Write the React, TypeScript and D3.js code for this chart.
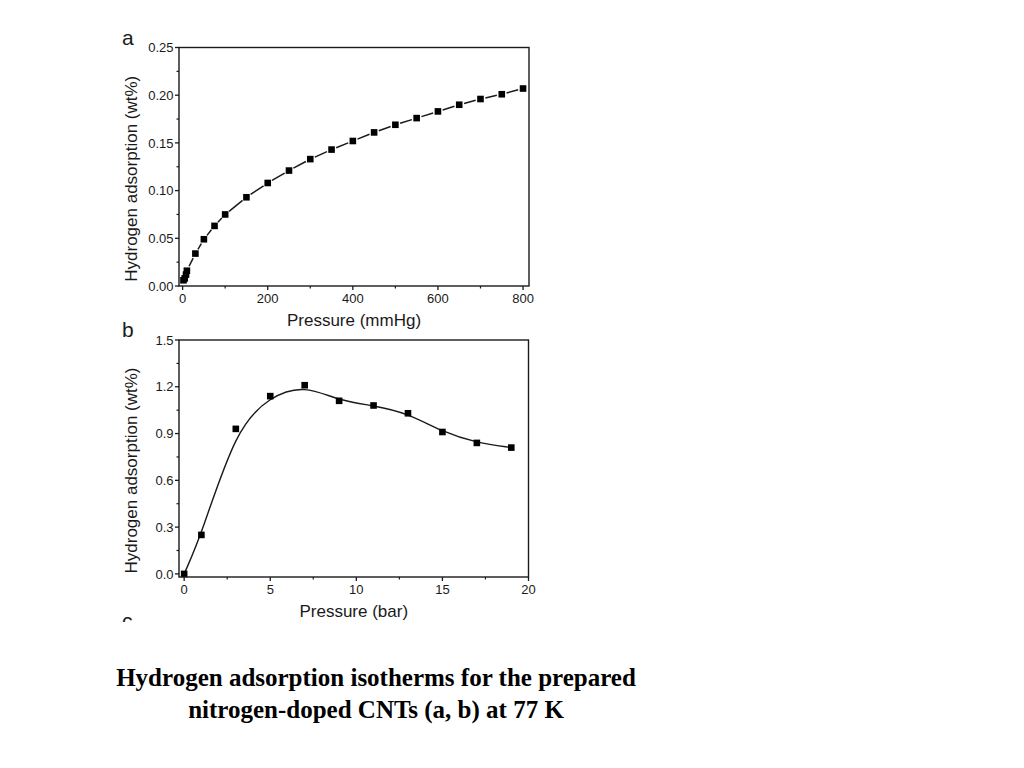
import React from 'react';
import * as d3 from 'd3';

// panel a: low pressure isotherm
const pressureMmHg = [2, 5, 8, 10, 30, 50, 75, 100, 150, 200, 250, 300, 350, 400, 450, 500, 550, 600, 650, 700, 750, 800];
const uptakeA = [0.006, 0.008, 0.012, 0.016, 0.034, 0.049, 0.063, 0.075, 0.093, 0.108, 0.121, 0.133, 0.143, 0.152, 0.161, 0.169, 0.176, 0.183, 0.19, 0.196, 0.201, 0.207];
const ticksA_x = [0, 200, 400, 600, 800];
const ticksA_y = [0, 0.05, 0.1, 0.15, 0.2, 0.25];

// panel b: high pressure isotherm
const pressureBar = [0, 1, 3, 5, 7, 9, 11, 13, 15, 17, 19];
const uptakeB = [0, 0.25, 0.93, 1.14, 1.21, 1.11, 1.08, 1.03, 0.91, 0.84, 0.81];
const ticksB_x = [0, 5, 10, 15, 20];
const ticksB_y = [0, 0.3, 0.6, 0.9, 1.2, 1.5];

const captionLines = [
  'Hydrogen adsorption isotherms for the prepared',
  'nitrogen-doped CNTs (a, b) at 77 K',
];

const FONT = 'Liberation Sans, Arial, sans-serif';
const INK = '#1a1a1a';

type PanelProps = {
  xs: number[];
  ys: number[];
  xDomain: [number, number];
  yDomain: [number, number];
  xTicks: number[];
  yTicks: number[];
  xFmt: (v: number) => string;
  yFmt: (v: number) => string;
  left: number;
  right: number;
  top: number;
  bottom: number;
  letter: string;
  xTitle: string;
  smooth: boolean;
};

const Panel = (p: PanelProps) => {
  const x = d3.scaleLinear().domain(p.xDomain).range([p.left, p.right]);
  const y = d3.scaleLinear().domain(p.yDomain).range([p.bottom, p.top]);
  const pts = p.xs.map((v, i) => [x(v), y(p.ys[i])] as [number, number]);

  // minor ticks halfway between majors
  const xMinor = p.xTicks.slice(1).map((t, i) => (t + p.xTicks[i]) / 2);
  const yMinor = p.yTicks.slice(1).map((t, i) => (t + p.yTicks[i]) / 2);

  let lineEls: React.ReactNode = null;
  if (p.smooth) {
    const path = d3.line().curve(d3.curveBasis)(pts) || '';
    lineEls = <path d={path} fill="none" stroke={INK} strokeWidth={1.4} />;
  } else {
    // line + symbol with small gaps round each square
    const gap = 5;
    lineEls = pts.slice(1).map((b, i) => {
      const a = pts[i];
      const dx = b[0] - a[0];
      const dy = b[1] - a[1];
      const len = Math.hypot(dx, dy);
      if (len < gap * 2 + 2) return null;
      const ux = dx / len;
      const uy = dy / len;
      return (
        <line key={i} x1={a[0] + ux * gap} y1={a[1] + uy * gap} x2={b[0] - ux * gap} y2={b[1] - uy * gap}
          stroke={INK} strokeWidth={1.5} />
      );
    });
  }

  const midY = (p.top + p.bottom) / 2 + 12;
  const midX = (p.left + p.right) / 2;

  return (
    <g>
      <text x={122} y={p.top - 3} fontFamily={FONT} fontSize={21} fill={INK}>{p.letter}</text>
      {lineEls}
      {pts.map((d, i) => (
        <rect key={i} x={d[0] - 3.3} y={d[1] - 3.3} width={6.6} height={6.6} fill="#000" />
      ))}
      <rect x={p.left} y={p.top} width={p.right - p.left} height={p.bottom - p.top} fill="none" stroke={INK} strokeWidth={1.4} />
      {p.xTicks.map((t) => (
        <g key={'x' + t}>
          <line x1={x(t)} x2={x(t)} y1={p.bottom} y2={p.bottom + 4} stroke={INK} strokeWidth={1.3} />
          <text x={x(t)} y={p.bottom + 17} textAnchor="middle" fontFamily={FONT} fontSize={13} fill={INK}>{p.xFmt(t)}</text>
        </g>
      ))}
      {xMinor.map((t) => (
        <line key={'xm' + t} x1={x(t)} x2={x(t)} y1={p.bottom} y2={p.bottom + 2.5} stroke={INK} strokeWidth={1.2} />
      ))}
      {p.yTicks.map((t) => (
        <g key={'y' + t}>
          <line x1={p.left - 4} x2={p.left} y1={y(t)} y2={y(t)} stroke={INK} strokeWidth={1.3} />
          <text x={p.left - 5.5} y={y(t)} dy="0.36em" textAnchor="end" fontFamily={FONT} fontSize={13} fill={INK}>{p.yFmt(t)}</text>
        </g>
      ))}
      {yMinor.map((t) => (
        <line key={'ym' + t} x1={p.left - 2.5} x2={p.left} y1={y(t)} y2={y(t)} stroke={INK} strokeWidth={1.2} />
      ))}
      <text x={midX} y={p.bottom + 40} textAnchor="middle" fontFamily={FONT} fontSize={17} fill={INK}>{p.xTitle}</text>
      <text transform={`translate(137,${midY}) rotate(-90)`} textAnchor="middle" fontFamily={FONT} fontSize={17} fill={INK}>
        Hydrogen adsorption (wt%)
      </text>
    </g>
  );
};

export default function App() {
  return (
    <svg width={1024} height={768} style={{ position: 'absolute', left: 0, top: 0, background: '#fff' }}>
      <rect width={1024} height={768} fill="#fff" />
      <Panel
        xs={pressureMmHg} ys={uptakeA}
        xDomain={[-8.5, 814]} yDomain={[0, 0.25]}
        xTicks={ticksA_x} yTicks={ticksA_y}
        xFmt={d3.format('d')} yFmt={d3.format('.2f')}
        left={179} right={529} top={47.5} bottom={286}
        letter="a" xTitle="Pressure (mmHg)" smooth={false}
      />
      <Panel
        xs={pressureBar} ys={uptakeB}
        xDomain={[-0.3, 20]} yDomain={[-0.02, 1.5]}
        xTicks={ticksB_x} yTicks={ticksB_y}
        xFmt={d3.format('d')} yFmt={d3.format('.1f')}
        left={179} right={528.5} top={340} bottom={577}
        letter="b" xTitle="Pressure (bar)" smooth={true}
      />
      {/* cut-off panel c label */}
      <clipPath id="cut">
        <rect x={0} y={0} width={1024} height={622} />
      </clipPath>
      <text x={122} y={628} clipPath="url(#cut)" fontFamily={FONT} fontSize={21} fill={INK}>c</text>
      {captionLines.map((s, i) => (
        <text key={i} x={376} y={686 + i * 32} textAnchor="middle" fontFamily="Liberation Serif, Times New Roman, serif"
          fontWeight="bold" fontSize={25} fill="#000">{s}</text>
      ))}
    </svg>
  );
}
